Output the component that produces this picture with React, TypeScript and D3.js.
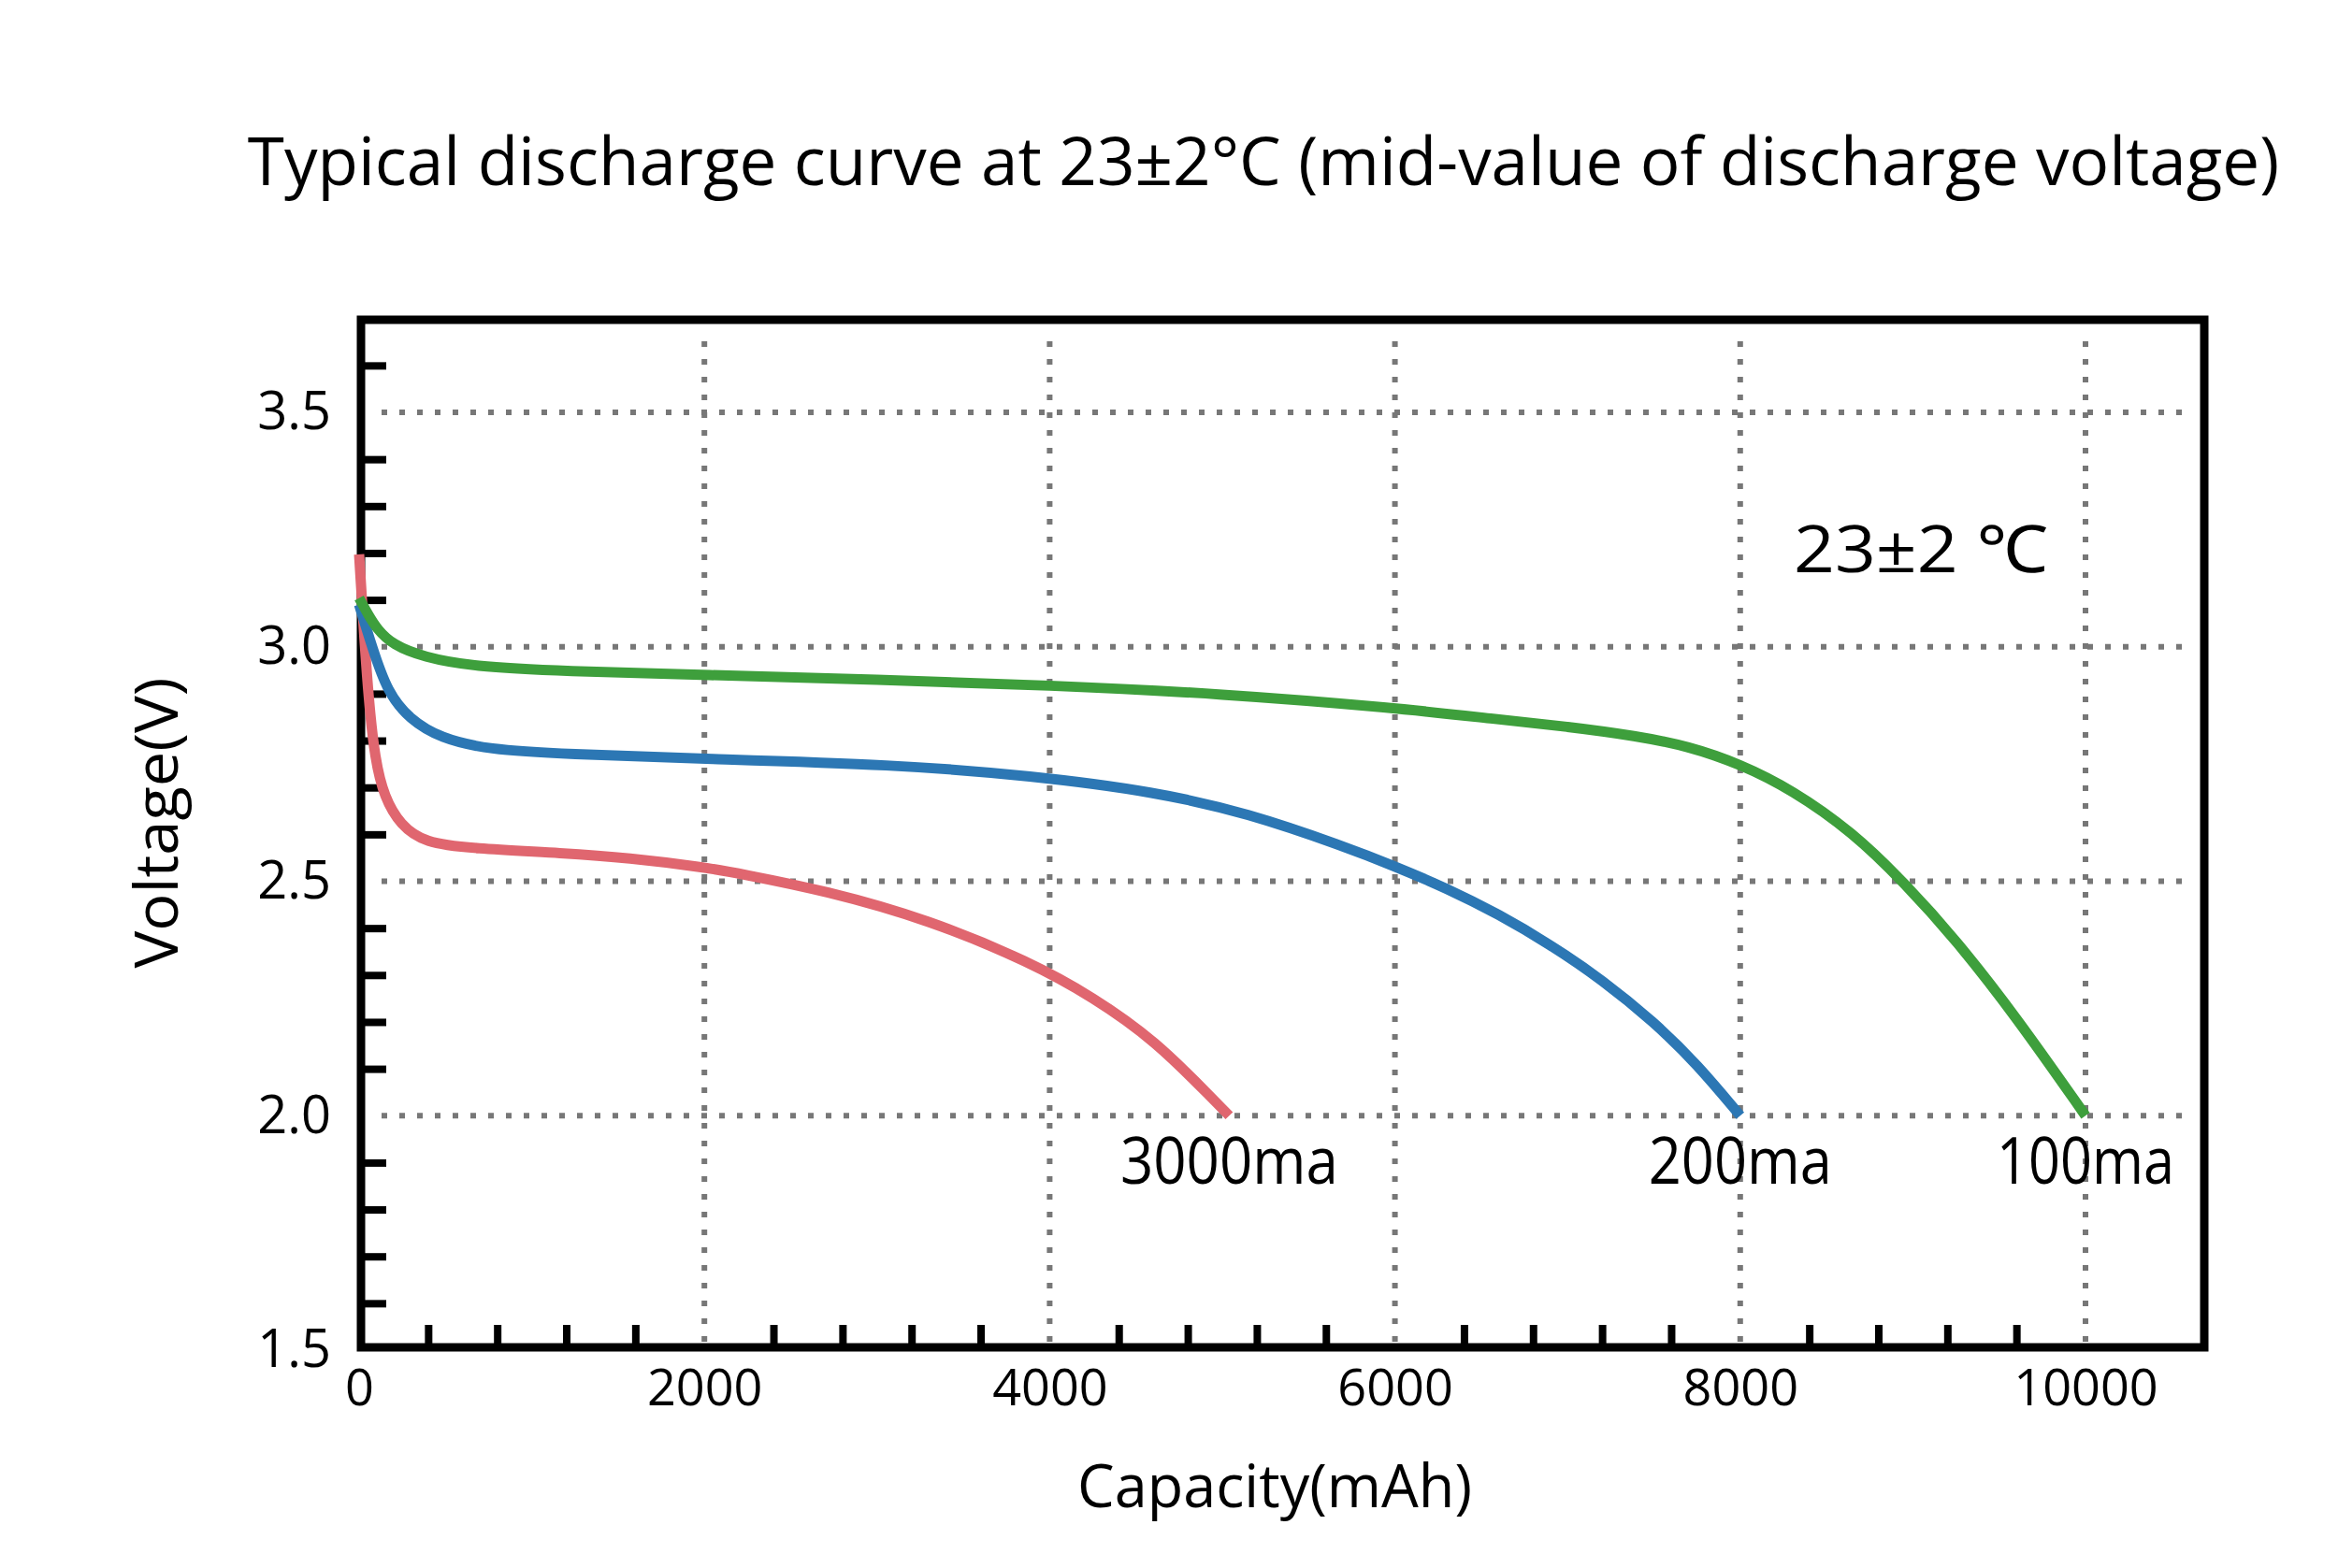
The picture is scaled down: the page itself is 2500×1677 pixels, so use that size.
import React from 'react';
import * as d3 from 'd3';

const titleText = 'Typical discharge curve at 23±2°C (mid-value of discharge voltage)';
const tempText = '23±2 ℃';
const xLabel = 'Capacity(mAh)';
const yLabel = 'Voltage(V)';

const capacityTicks = [0, 2000, 4000, 6000, 8000, 10000];
const voltageTicks = [1.5, 2.0, 2.5, 3.0, 3.5];

// 100mA discharge
const cap100 = [0, 50, 103, 195, 374, 650, 1190, 2000, 3000, 4000, 5000, 6000, 6600, 7000, 7400, 7700, 8000, 8300, 8650, 8950, 9250, 9600, 10000];
const volt100 = [3.104, 3.07, 3.038, 3.004, 2.978, 2.958, 2.948, 2.940, 2.930, 2.918, 2.900, 2.870, 2.845, 2.830, 2.810, 2.788, 2.750, 2.695, 2.605, 2.497, 2.375, 2.210, 2.0];

// 200mA discharge
const cap200 = [0, 76, 163, 293, 472, 743, 1193, 2000, 3100, 3900, 4610, 5150, 5700, 6000, 6300, 6600, 6900, 7200, 7500, 7750, 8000];
const volt200 = [3.09, 2.998, 2.904, 2.845, 2.805, 2.781, 2.771, 2.761, 2.749, 2.725, 2.691, 2.645, 2.575, 2.532, 2.485, 2.430, 2.365, 2.290, 2.200, 2.110, 2.0];

// 3000mA discharge
const cap3000 = [0, 22, 54, 92, 146, 239, 380, 651, 1193, 1557, 2000, 2208, 2700, 3300, 3890, 4250, 4610, 4960, 5040];
const volt3000 = [3.197, 3.064, 2.89, 2.759, 2.679, 2.62, 2.582, 2.57, 2.56, 2.55, 2.53, 2.516, 2.48, 2.418, 2.327, 2.253, 2.161, 2.030, 2.0];

const seriesNames = ['3000ma', '200ma', '100ma'];
const seriesColors = ['#e0666f', '#2c77b4', '#3e9f3c'];

const width = 2500, height = 1677;
const frame = { left: 386, top: 342, right: 2357, bottom: 1441 };
const font = "'Open Sans', 'Noto Sans', sans-serif";

export default function App() {

    const container = React.useRef(null);

    React.useEffect(() => {
        if (!container.current) return;

        const svg = d3.select(container.current);
        svg.selectAll('*').remove();

        const x = d3.scaleLinear().domain([0, 10000]).range([384, 2230]);
        const y = d3.scaleLinear().domain([1.5, 3.5]).range([1444, 441]);

        const series = [
            { name: seriesNames[0], color: seriesColors[0], points: cap3000.map((c, i) => ({ c, v: volt3000[i] })) },
            { name: seriesNames[1], color: seriesColors[1], points: cap200.map((c, i) => ({ c, v: volt200[i] })) },
            { name: seriesNames[2], color: seriesColors[2], points: cap100.map((c, i) => ({ c, v: volt100[i] })) }
        ];

        // dotted grid
        svg.append('g').selectAll('line')
            .data(voltageTicks.slice(1))
            .join('line')
            .attr('x1', 408).attr('x2', 2335)
            .attr('y1', d => y(d)).attr('y2', d => y(d))
            .attr('stroke', '#777').attr('stroke-width', 6).attr('stroke-dasharray', '6 13');

        svg.append('g').selectAll('line')
            .data(capacityTicks.slice(1))
            .join('line')
            .attr('y1', 365).attr('y2', 1435)
            .attr('x1', d => x(d)).attr('x2', d => x(d))
            .attr('stroke', '#777').attr('stroke-width', 6).attr('stroke-dasharray', '6 13');

        // frame
        svg.append('rect')
            .attr('x', frame.left).attr('y', frame.top)
            .attr('width', frame.right - frame.left).attr('height', frame.bottom - frame.top)
            .attr('fill', 'none').attr('stroke', '#000').attr('stroke-width', 9);

        // minor ticks, pointing inward
        const minorX = d3.range(400, 10000, 400).filter(v => v % 2000 !== 0);
        const minorY = d3.range(16, 37).map(v => v / 10).filter(v => Math.round(v * 10) % 5 !== 0);

        const xTicks = svg.append('g')
            .attr('transform', `translate(0,${frame.bottom})`)
            .call(d3.axisBottom(x).tickValues(minorX).tickSize(-24).tickFormat(() => ''));
        xTicks.select('.domain').remove();
        xTicks.selectAll('line').attr('stroke', '#000').attr('stroke-width', 8);

        const yTicks = svg.append('g')
            .attr('transform', `translate(${frame.left},0)`)
            .call(d3.axisLeft(y).tickValues(minorY).tickSize(-27).tickFormat(() => ''));
        yTicks.select('.domain').remove();
        yTicks.selectAll('line').attr('stroke', '#000').attr('stroke-width', 8);

        // tick labels
        const xLabels = svg.append('g')
            .attr('transform', `translate(0,${frame.bottom})`)
            .call(d3.axisBottom(x).tickValues(capacityTicks).tickSize(0).tickPadding(24).tickFormat(d3.format('d')));
        xLabels.select('.domain').remove();
        xLabels.selectAll('text').attr('font-family', font).attr('font-size', 54).attr('fill', '#000');

        const yLabels = svg.append('g')
            .attr('transform', `translate(${frame.left},0)`)
            .call(d3.axisLeft(y).tickValues(voltageTicks).tickSize(0).tickPadding(32).tickFormat(d3.format('.1f')));
        yLabels.select('.domain').remove();
        yLabels.selectAll('text').attr('font-family', font).attr('font-size', 56).attr('fill', '#000');

        // curves
        const line = d3.line<{ c: number, v: number }>()
            .x(d => x(d.c))
            .y(d => y(d.v))
            .curve(d3.curveBasis);

        svg.append('g').selectAll('path')
            .data(series)
            .join('path')
            .attr('d', d => line(d.points))
            .attr('fill', 'none')
            .attr('stroke', d => d.color)
            .attr('stroke-width', 11)
            .attr('stroke-linejoin', 'round');

        // curve labels at end points
        svg.append('g').selectAll('text')
            .data(series)
            .join('text')
            .attr('x', d => x(d.points[d.points.length - 1].c))
            .attr('y', d => y(d.points[d.points.length - 1].v) + 73)
            .attr('text-anchor', 'middle')
            .attr('font-family', font)
            .attr('font-size', 70)
            .attr('textLength', (d, i) => [233, 196, 190][i])
            .attr('lengthAdjust', 'spacingAndGlyphs')
            .text(d => d.name);

        svg.append('text')
            .attr('x', 1918).attr('y', 612)
            .attr('font-family', font).attr('font-size', 70)
            .attr('textLength', 272).attr('lengthAdjust', 'spacingAndGlyphs')
            .text(tempText);

        // titles
        svg.append('text')
            .attr('x', 1351).attr('y', 198)
            .attr('text-anchor', 'middle')
            .attr('font-family', font).attr('font-size', 71)
            .text(titleText);

        svg.append('text')
            .attr('x', 1363).attr('y', 1612)
            .attr('text-anchor', 'middle')
            .attr('font-family', font).attr('font-size', 64)
            .attr('textLength', 422).attr('lengthAdjust', 'spacingAndGlyphs')
            .text(xLabel);

        svg.append('text')
            .attr('transform', 'translate(190,880) rotate(-90)')
            .attr('text-anchor', 'middle')
            .attr('font-family', font).attr('font-size', 64)
            .attr('textLength', 311).attr('lengthAdjust', 'spacingAndGlyphs')
            .text(yLabel);

    }, []);

    return <svg
        ref={container}
        width={width}
        height={height}
        style={{ position: 'absolute', left: 0, top: 0, background: '#fff' }}
    />
}
